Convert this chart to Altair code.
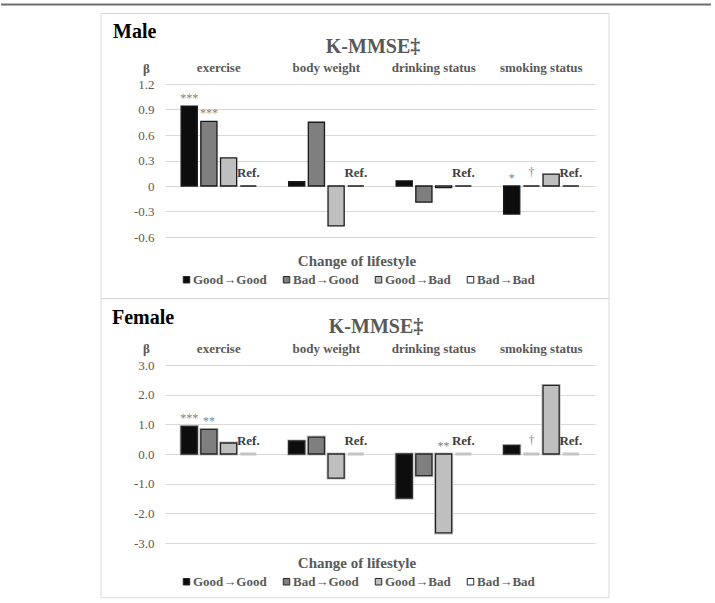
import altair as alt
import pandas as pd

SERIF = "Liberation Serif"
GRAY_TEXT = "#595959"

categories = ["exercise", "body weight", "drinking status", "smoking status"]
changes = ["Good→Good", "Bad→Good", "Good→Bad", "Bad→Bad"]
fills = ["#0d0d0d", "#7f7f7f", "#bfbfbf", "#ffffff"]

# beta coefficients per lifestyle category (order follows `categories`)
male_good_good = [0.94, 0.05, 0.06, -0.33]
male_bad_good = [0.76, 0.75, -0.19, 0.00]
male_good_bad = [0.33, -0.47, -0.02, 0.14]
male_bad_bad = [0.00, 0.00, 0.00, 0.00]

female_good_good = [0.93, 0.44, -1.49, 0.29]
female_bad_good = [0.83, 0.57, -0.73, 0.00]
female_good_bad = [0.37, -0.81, -2.66, 2.31]
female_bad_bad = [0.00, 0.00, 0.00, 0.00]

# significance markers
male_sig_category = ["exercise", "exercise", "smoking status", "smoking status"]
male_sig_change = ["Good→Good", "Bad→Good", "Good→Good", "Bad→Good"]
male_sig_label = ["***", "***", "*", "†"]

female_sig_category = ["exercise", "exercise", "drinking status", "smoking status"]
female_sig_change = ["Good→Good", "Bad→Good", "Good→Bad", "Bad→Good"]
female_sig_label = ["***", "**", "**", "†"]

male_ticks = [-0.6, -0.3, 0, 0.3, 0.6, 0.9, 1.2]
female_ticks = [-3, -2, -1, 0, 1, 2, 3]


def long_table(series):
    rows = []
    for change, values in zip(changes, series):
        for cat, v in zip(categories, values):
            rows.append({"category": cat, "change": change, "beta": v})
    return pd.DataFrame(rows)


def sig_table(df, cats, chs, labels):
    rows = []
    for c, ch, lab in zip(cats, chs, labels):
        b = float(df[(df.category == c) & (df.change == ch)].beta.iloc[0])
        rows.append({"category": c, "change": ch, "label": lab,
                     "anchor": max(b, 0.0), "dagger": lab == "†"})
    return pd.DataFrame(rows)


def panel(name, df, sig, ticks, label_expr, height, frame_top, frame_bottom,
          name_pos, title_pos, beta_y, legend_y, female=False):
    one = alt.Data(values=[{"k": 1}])

    x_enc = alt.X(
        "category:N", sort=categories,
        scale=alt.Scale(paddingInner=0.3, paddingOuter=0.15),
        axis=alt.Axis(orient="top", title=None, domain=False, ticks=False,
                      tickSize=0, labelAngle=0, labelFont=SERIF,
                      labelFontSize=13, labelFontWeight="bold",
                      labelColor=GRAY_TEXT, labelPadding=10),
    )
    xo_enc = alt.XOffset("change:N", sort=changes,
                         scale=alt.Scale(paddingInner=0.18, paddingOuter=0))
    y_scale = alt.Scale(domain=[ticks[0], ticks[-1]], nice=False, zero=False)
    y_axis = alt.Axis(values=ticks, grid=True, gridColor="#d9d9d9",
                      domain=False, ticks=False, tickSize=0, labelPadding=11,
                      labelExpr=label_expr,
                      labelFont=SERIF, labelFontSize=13, labelColor=GRAY_TEXT,
                      title="β", titleAngle=0, titleX=-19, titleY=beta_y,
                      titleAlign="center", titleBaseline="middle",
                      titleFont=SERIF, titleFontSize=13,
                      titleFontWeight="bold", titleColor=GRAY_TEXT)
    y_enc = alt.Y("beta:Q", scale=y_scale, axis=y_axis)
    y_anchor = alt.Y("anchor:Q", scale=y_scale, axis=y_axis)

    color_enc = alt.Color(
        "change:N", sort=changes,
        scale=alt.Scale(domain=changes, range=fills),
        legend=alt.Legend(
            title="Change of lifestyle", orient="none", legendX=15,
            legendY=legend_y, direction="horizontal", columns=4,
            columnPadding=13, titleAnchor="middle", titleFont=SERIF,
            titleFontSize=15, titleFontWeight="bold", titleColor=GRAY_TEXT,
            titlePadding=4, labelFont=SERIF, labelFontSize=13,
            labelFontWeight="bold", labelColor=GRAY_TEXT, labelOffset=0,
            symbolType="square", symbolSize=42, symbolStrokeColor="#262626",
            symbolStrokeWidth=1, symbolOpacity=1, padding=0),
    )

    layers = []

    base = alt.Chart(df)
    if female:
        zero_base = base.mark_bar(fillOpacity=0, stroke="#c4c4c4",
                                  strokeWidth=3).encode(
            x=x_enc, xOffset=xo_enc, y=y_enc, y2=alt.Y2(datum=0))
        bars = base.transform_filter("datum.beta != 0").mark_bar(
            stroke="#262626", strokeWidth=1.3).encode(
            x=x_enc, xOffset=xo_enc, y=y_enc, y2=alt.Y2(datum=0),
            color=color_enc)
        layers += [zero_base, bars]
    else:
        bars = base.mark_bar(stroke="#1a1a1a", strokeWidth=1.3).encode(
            x=x_enc, xOffset=xo_enc, y=y_enc, y2=alt.Y2(datum=0),
            color=color_enc)
        layers.append(bars)

    frame = alt.Chart(one).mark_rect(filled=False, stroke="#d9d9d9",
                                     strokeWidth=1).encode(
        x=alt.value(-64), x2=alt.value(444),
        y=alt.value(frame_top), y2=alt.value(frame_bottom))
    layers.append(frame)

    if not female:
        top_line = alt.Chart(one).mark_rule(color="#6e6e6e", strokeWidth=2).encode(
            x=alt.value(-164), x2=alt.value(546), y=alt.value(-79.5))
        layers.append(top_line)

    name_text = alt.Chart(one).mark_text(
        align="left", baseline="middle", font=SERIF, fontSize=20,
        fontWeight="bold", color="black").encode(
        x=alt.value(name_pos[0]), y=alt.value(name_pos[1]), text=alt.value(name))
    title_text = alt.Chart(one).mark_text(
        align="center", baseline="middle", font=SERIF, fontSize=20,
        fontWeight="bold", color=GRAY_TEXT).encode(
        x=alt.value(title_pos[0]), y=alt.value(title_pos[1]),
        text=alt.value("K-MMSE‡"))
    layers += [name_text, title_text]

    ref = base.transform_filter(alt.datum.change == "Bad→Bad").mark_text(
        text="Ref.", font=SERIF, fontSize=13, fontWeight="bold",
        color="#404040", baseline="alphabetic", dy=-9).encode(
        x=x_enc, xOffset=xo_enc, y=y_enc)
    layers.append(ref)

    sig_base = alt.Chart(sig)
    stars = sig_base.transform_filter("!datum.dagger").mark_text(
        font=SERIF, fontSize=12, color="#7f7f7f", baseline="alphabetic",
        dy=-4).encode(x=x_enc, xOffset=xo_enc, y=y_anchor, text="label:N")
    dagger = sig_base.transform_filter("datum.dagger").mark_text(
        font=SERIF, fontSize=12, color="#7f7f7f", baseline="alphabetic",
        dy=-10).encode(x=x_enc, xOffset=xo_enc, y=y_anchor, text="label:N")
    layers += [stars, dagger]

    return alt.layer(*layers).properties(width=430, height=height)


male_df = long_table([male_good_good, male_bad_good, male_good_bad, male_bad_bad])
female_df = long_table([female_good_good, female_bad_good, female_good_bad,
                        female_bad_bad])
male_sig = sig_table(male_df, male_sig_category, male_sig_change, male_sig_label)
female_sig = sig_table(female_df, female_sig_category, female_sig_change,
                       female_sig_label)

male_expr = ("datum.value == 0 ? '0' : "
             "replace(format(datum.value, '.1f'), '\u2212', '-')")
female_expr = "replace(format(datum.value, '.1f'), '\u2212', '-')"

male = panel("Male", male_df, male_sig, male_ticks, male_expr, 153,
             -70.5, 214.5, (-52, -52.5), (208, -37.5), -15.5, 170)
female = panel("Female", female_df, female_sig, female_ticks, female_expr, 178,
               -66.3, 232.7, (-53, -47.3), (211, -38.3), -16.3, 191,
               female=True)

chart = alt.vconcat(male, female, spacing=-1).resolve_scale(
    x="independent", y="independent", xOffset="independent",
    color="independent").resolve_legend(color="independent").properties(
    padding={"left": 0, "top": 3, "right": 0, "bottom": 0},
    background="white",
).configure_view(stroke=None)

chart.save("out.html", embed_options={"renderer": "svg", "actions": False})
